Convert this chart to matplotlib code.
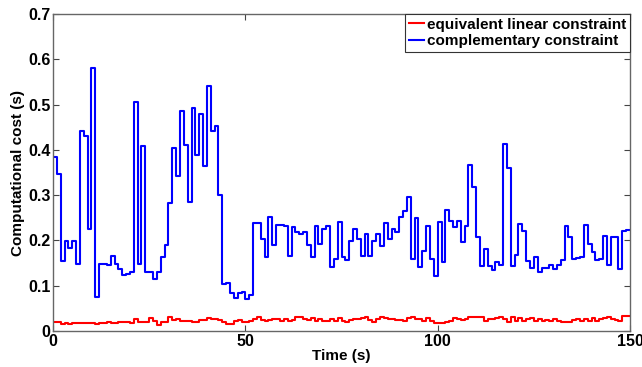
import numpy as np
import matplotlib
matplotlib.use('Agg')
import matplotlib.pyplot as plt

# ---------------------------------------------------------------------------
# DATA (one value per 1 s step)
# ---------------------------------------------------------------------------
complementary = [
    0.385, 0.347, 0.155, 0.199, 0.183, 0.199, 0.148, 0.441, 0.431, 0.225,
    0.581, 0.076, 0.149, 0.148, 0.145, 0.166, 0.148, 0.137, 0.124, 0.126,
    0.130, 0.506, 0.149, 0.409, 0.130, 0.130, 0.115, 0.130, 0.164, 0.190,
    0.283, 0.404, 0.343, 0.485, 0.411, 0.286, 0.493, 0.389, 0.480, 0.365,
    0.541, 0.441, 0.452, 0.301, 0.104, 0.105, 0.085, 0.074, 0.085, 0.087,
    0.071, 0.080, 0.238, 0.238, 0.203, 0.163, 0.251, 0.190, 0.234, 0.234,
    0.232, 0.165, 0.230, 0.218, 0.215, 0.218, 0.189, 0.163, 0.232, 0.192,
    0.225, 0.232, 0.141, 0.159, 0.240, 0.163, 0.156, 0.199, 0.225, 0.203,
    0.165, 0.215, 0.165, 0.198, 0.214, 0.188, 0.238, 0.203, 0.225, 0.218,
    0.251, 0.265, 0.295, 0.160, 0.249, 0.141, 0.176, 0.231, 0.160, 0.122,
    0.240, 0.152, 0.267, 0.244, 0.229, 0.244, 0.196, 0.232, 0.367, 0.317,
    0.207, 0.144, 0.182, 0.144, 0.135, 0.152, 0.146, 0.414, 0.359, 0.144,
    0.168, 0.236, 0.221, 0.155, 0.139, 0.164, 0.130, 0.139, 0.139, 0.146,
    0.137, 0.146, 0.157, 0.231, 0.207, 0.160, 0.162, 0.163, 0.234, 0.192,
    0.174, 0.157, 0.159, 0.210, 0.146, 0.208, 0.208, 0.137, 0.221, 0.224,
]

linear = [
    0.019, 0.019, 0.015, 0.017, 0.016, 0.018, 0.018, 0.017, 0.018, 0.017,
    0.017, 0.016, 0.017, 0.018, 0.019, 0.018, 0.017, 0.019, 0.020, 0.019,
    0.018, 0.026, 0.019, 0.019, 0.019, 0.028, 0.022, 0.014, 0.019, 0.019,
    0.030, 0.025, 0.026, 0.022, 0.022, 0.023, 0.019, 0.019, 0.024, 0.024,
    0.028, 0.026, 0.026, 0.024, 0.019, 0.015, 0.016, 0.022, 0.025, 0.019,
    0.019, 0.023, 0.026, 0.032, 0.024, 0.022, 0.024, 0.026, 0.026, 0.022,
    0.026, 0.023, 0.024, 0.032, 0.031, 0.026, 0.024, 0.028, 0.022, 0.026,
    0.023, 0.023, 0.026, 0.022, 0.028, 0.022, 0.019, 0.024, 0.026, 0.026,
    0.028, 0.030, 0.024, 0.020, 0.026, 0.030, 0.029, 0.026, 0.026, 0.024,
    0.024, 0.023, 0.028, 0.032, 0.026, 0.026, 0.023, 0.028, 0.023, 0.017,
    0.017, 0.017, 0.020, 0.023, 0.028, 0.027, 0.024, 0.027, 0.030, 0.030,
    0.030, 0.030, 0.023, 0.027, 0.027, 0.028, 0.031, 0.026, 0.020, 0.030,
    0.022, 0.028, 0.022, 0.026, 0.028, 0.023, 0.027, 0.022, 0.024, 0.022,
    0.026, 0.022, 0.020, 0.020, 0.020, 0.024, 0.027, 0.023, 0.026, 0.022,
    0.028, 0.022, 0.026, 0.028, 0.030, 0.027, 0.024, 0.022, 0.034, 0.034,
]

labels = ['equivalent linear constraint', 'complementary constraint']
x_ticks = [0, 50, 100, 150]
y_ticks = [0, 0.1, 0.2, 0.3, 0.4, 0.5, 0.6, 0.7]
y_ticklabels = ['0', '0.1', '0.2', '0.3', '0.4', '0.5', '0.6', '0.7']

# ---------------------------------------------------------------------------
# PLOT
# ---------------------------------------------------------------------------
plt.rcParams['font.family'] = ['Liberation Sans', 'DejaVu Sans']
plt.rcParams['font.weight'] = 'bold'

fig = plt.figure(figsize=(6.42, 3.67), dpi=100)
ax = fig.add_axes([0.0826, 0.098, 0.8987, 0.8638])

t = np.arange(len(complementary) + 1)
y_lin = np.append(linear, linear[-1])
y_com = np.append(complementary, complementary[-1])

ax.step(t, y_lin, where='post', color='#ff0000', lw=1.5, label=labels[0])
ax.step(t, y_com, where='post', color='#0000ff', lw=1.5, label=labels[1])

ax.set_xlim(0, 150)
ax.set_ylim(0, 0.7)
ax.set_xticks(x_ticks)
ax.set_yticks(y_ticks)
ax.set_yticklabels(y_ticklabels)

ax.tick_params(direction='in', top=True, right=True, length=4,
               width=0.8, labelsize=11.5, color='#444444', pad=2)
for lab in ax.get_xticklabels() + ax.get_yticklabels():
    lab.set_fontweight('bold')
for sp in ax.spines.values():
    sp.set_color('#666666')
    sp.set_linewidth(1.0)

ax.set_xlabel('Time (s)', fontsize=11, fontweight='bold', labelpad=0)
ax.set_ylabel('Computational cost (s)', fontsize=11, fontweight='bold',
              labelpad=2)

leg = ax.legend(loc='upper right', borderaxespad=0, fancybox=False,
                framealpha=1, edgecolor='#333333', handlelength=1.0,
                handletextpad=0.2, borderpad=0.25, labelspacing=0.15,
                prop={'size': 11, 'weight': 'bold'})
leg.get_frame().set_linewidth(0.8)

fig.savefig('out.png', dpi=100)
